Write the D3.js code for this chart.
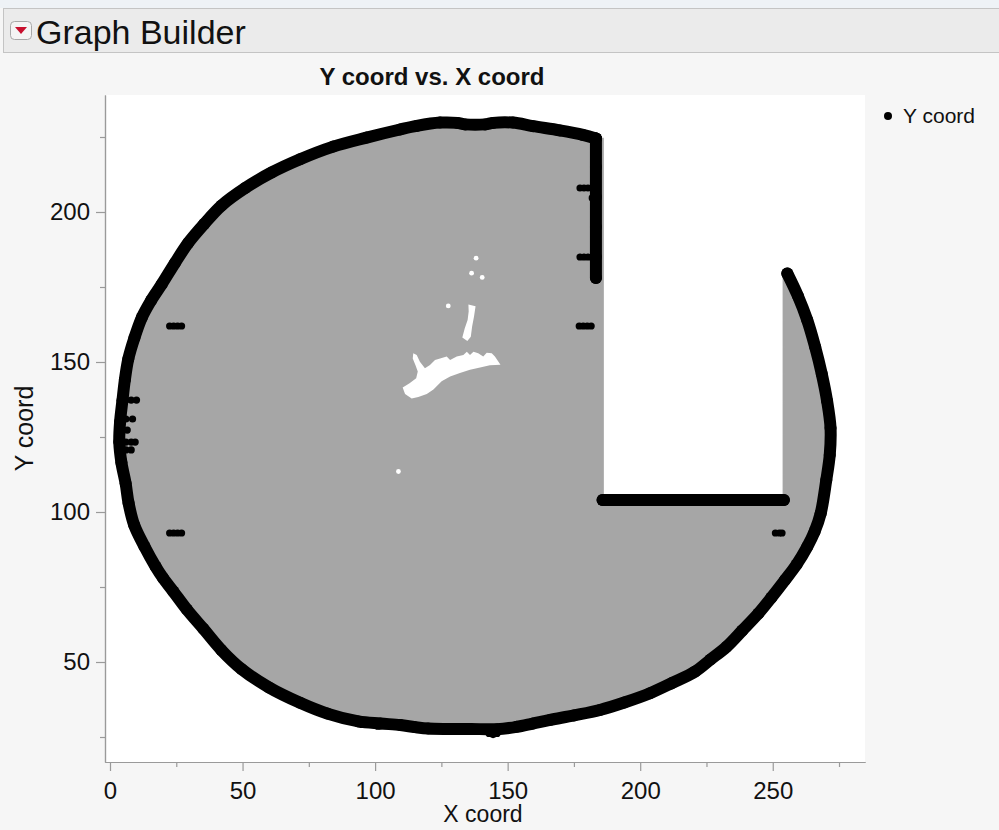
<!DOCTYPE html>
<html>
<head>
<meta charset="utf-8">
<script src="https://cdn.jsdelivr.net/npm/d3@7"></script>
<style>
  html, body { margin: 0; padding: 0; background: #f6f6f6; }
  svg { display: block; }
  text { font-family: "Liberation Sans", Arial, Helvetica, sans-serif; }
</style>
</head>
<body>
<svg id="chart" width="999" height="830"></svg>
<script>
// ---------------- data (data coordinates) ----------------
const xMajorTicks = [0, 50, 100, 150, 200, 250];
const xMinorTicks = [25, 75, 125, 175, 225, 275];
const yMajorTicks = [50, 100, 150, 200];
const yMinorTicks = [25, 75, 125, 175, 225];

// outer boundary points (black), clockwise from right edge of cut-out
const arcPoints = [
  [255.5,179.5],[259.5,172],[263,164],[266,155],[268.5,146],[270.5,137],[271.8,128],
  [271.5,119],[270.2,110.7],[268.1,99.6],[265.8,93.5],[263,88.4],[259,82.5],[254.6,77.3],
  [249.5,71.5],[244.6,66.2],[238.5,60.5],[232.6,55.1],[226.5,50.8],[220.7,46.8],[212,43],
  [203.7,39.6],[194,36.5],[184.8,34],[175,32.2],[166,30.7],[159.5,29.5],[153.4,28.4],
  [146,27.6],[136,27.7],[128,27.7],[120,27.8],[115,28.3],[109.5,29],
  [102,29.5],[93.7,30.2],[82,32.8],[71.7,36.4],[60,41.5],[49.7,47.6],[42,54],[35.2,61.1],
  [29,67.5],[23.9,73.5],[20,78],[17.2,81.8],[13,88.5],[9.1,95.7],[7,103],[5.9,109.5],
  [4.3,116.5],[3.5,123.3],[3.8,130],[4.7,137.2],[5.6,144],[6.9,151],[9.2,158],[12,164.8],
  [15.5,170.5],[19.5,175.9],[24.5,183],[29.5,189.7],[35.5,196],[42.1,202.2],[51,208],
  [61,213.2],[71.7,217.6],[84.2,221.8],[96.8,224.8],[109.4,227.5],[115.7,228.7],
  [124.5,229.8],[131,229.7],[134,229.2],[141.5,229.2],[144.5,229.7],[152,229.8],[159.6,228.6],
  [169.7,227.2],[178.4,225.7],[183.3,224.5]
];
// vertical edge at the left of the cut-out (black)
const edgePoints = [[183.3,224.5],[183.3,215],[183.3,205],[183.3,195],[183.3,185],[183.3,178]];
// cut-out corners of the gray region
const cutoutCorners = [[186,224.5],[186,104],[254,104],[254,179.5]];
// horizontal bar at the bottom of the cut-out (black)
const barPoints = [[185.8,104],[200,104],[215,104],[230,104],[245,104],[254.2,104]];
// short dashes and isolated black points
const dashPoints = [
  [22.5,162],[24,162],[25.5,162],[27,162],
  [22.5,93],[24,93],[25.5,93],[27,93],
  [177,162],[178.5,162],[180,162],[181.5,162],
  [251,93],[252.5,93],[253.5,93],
  [177.3,208],[178.8,208],[180.3,208],[181.7,208],[181.9,204.7],
  [177.3,185],[178.8,185],[180.3,185],[181.7,185],
  [4,137.3],[6,137.3],[8,137.3],[10,137.3],
  [4,131],[6,131],[8.5,131],
  [4,127.3],[6.5,127.3],
  [4,123.3],[6,123.3],[8,123.3],[9.5,123.3],
  [4,120.7],[6,120.7],[8,120.7],
  [143,26.2],[144.5,25.8],[146,26.2],
  [101,28.6],[95,29.2]
];
// white holes inside the gray region
const holeMain = [
  [114.4,152.9],[115.7,152.3],[116.9,150.1],[118.8,147.9],[120.7,149],[122.6,150.7],
  [124.5,151.2],[127,151.8],[128.3,150.7],[130.8,151.8],[133.3,152.3],[134.6,153.4],
  [135.8,152.3],[137.1,153.4],[138.9,152.9],[140.8,151.8],[142.1,153.1],[144,152.9],
  [145.2,151.8],[147.3,149.1],[143.3,148.9],[139.6,148.2],[135.8,147.4],[132,146.3],
  [128.3,145.2],[125.1,143.6],[122,140.8],[119.5,139.3],[116.3,138.3],[113.8,137.8],
  [111.3,139.3],[110.4,141.5],[113,142.9],[115.5,144.6],[116.1,146.8],[115.2,149],
  [114.2,151.2]
];
const holeStreak = [
  [135.2,169.2],[137.9,168.6],[137.3,165.1],[136.6,161.8],[136.1,158.4],[134.8,157],
  [132.9,158.2],[133.8,161.2],[134.9,164],[135.3,166.8]
];
const holeDots = [[138.1,184.6],[136.4,179.6],[140.4,178.2],[127.6,168.7],[108.8,113.5]];

const seriesName = "Y coord";
const xLabel = "X coord";
const yLabel = "Y coord";
const chartTitle = "Y coord vs. X coord";

// ---------------- drawing ----------------
const svg = d3.select("#chart");
const L = 105, R = 865, T = 95, B = 762;

const x = d3.scaleLinear().domain([-1.886, 284.8]).range([L, R]);
const y = d3.scaleLinear().domain([16.67, 239]).range([B, T]);

// header strip
svg.append("rect").attr("x", 0).attr("y", 0).attr("width", 999).attr("height", 8).attr("fill", "#eef2f6");
svg.append("rect").attr("x", 3.5).attr("y", 8.5).attr("width", 1000).attr("height", 44)
  .attr("fill", "#ebebeb").attr("stroke", "#c4c4c4");
svg.append("rect").attr("x", 10.5).attr("y", 21.5).attr("width", 21).attr("height", 18).attr("rx", 4)
  .attr("fill", "#f4f4f4").attr("stroke", "#a8a8a8");
svg.append("path").attr("d", "M15,27 L27,27 L21,34 Z").attr("fill", "#c8102e");
svg.append("text").attr("x", 36).attr("y", 44).attr("font-size", 34).attr("fill", "#111").text("Graph Builder");

// title
svg.append("text").attr("x", 432).attr("y", 85).attr("text-anchor", "middle")
  .attr("font-size", 24).attr("font-weight", "bold").attr("fill", "#111").text(chartTitle);

// plot background
svg.append("rect").attr("x", L).attr("y", T).attr("width", R - L).attr("height", B - T).attr("fill", "#ffffff");

const plot = svg.append("g");
const smooth = d3.line().x(d => x(d[0])).y(d => y(d[1])).curve(d3.curveCatmullRom.alpha(0.5));
const straight = d3.line().x(d => x(d[0])).y(d => y(d[1]));
const closed = d3.line().x(d => x(d[0])).y(d => y(d[1])).curve(d3.curveLinearClosed);

// gray filled region: smooth outer arc + straight cut-out edges
const regionPath = smooth(arcPoints) +
  cutoutCorners.map(d => "L" + x(d[0]) + "," + y(d[1])).join("") + "Z";
plot.append("path").attr("d", regionPath).attr("fill", "#a6a6a6").attr("stroke", "#a6a6a6").attr("stroke-width", 1.5);

// white holes
plot.append("path").attr("d", closed(holeMain)).attr("fill", "#fff");
plot.append("path").attr("d", closed(holeStreak)).attr("fill", "#fff");
plot.selectAll(".hd").data(holeDots).enter().append("circle")
  .attr("cx", d => x(d[0])).attr("cy", d => y(d[1])).attr("r", 2.4).attr("fill", "#fff");

// black boundary
[[arcPoints, smooth], [edgePoints, straight], [barPoints, straight]].forEach(([pts, gen]) => {
  plot.append("path").attr("d", gen(pts)).attr("fill", "none").attr("stroke", "#000")
    .attr("stroke-width", 12).attr("stroke-linejoin", "round").attr("stroke-linecap", "round");
  plot.selectAll(null).data(pts).enter().append("circle")
    .attr("cx", d => x(d[0])).attr("cy", d => y(d[1])).attr("r", 6).attr("fill", "#000");
});
plot.selectAll(".dash").data(dashPoints).enter().append("circle")
  .attr("cx", d => x(d[0])).attr("cy", d => y(d[1])).attr("r", 3.6).attr("fill", "#000");

// axes
const axisColor = "#9a9a9a";
const yAxis = svg.append("g").attr("transform", `translate(${L},0)`)
  .call(d3.axisLeft(y).tickValues(yMajorTicks).tickSize(9).tickSizeOuter(0).tickPadding(6).tickFormat(d3.format("d")));
const yMinor = svg.append("g").attr("transform", `translate(${L},0)`)
  .call(d3.axisLeft(y).tickValues(yMinorTicks).tickSize(5).tickSizeOuter(0).tickFormat(""));
const xAxis = svg.append("g").attr("transform", `translate(0,${B})`)
  .call(d3.axisBottom(x).tickValues(xMajorTicks).tickSize(9).tickSizeOuter(0).tickPadding(11).tickFormat(d3.format("d")));
const xMinor = svg.append("g").attr("transform", `translate(0,${B})`)
  .call(d3.axisBottom(x).tickValues(xMinorTicks).tickSize(5).tickSizeOuter(0).tickFormat(""));
[yAxis, yMinor, xAxis, xMinor].forEach(g => {
  g.selectAll("path.domain").attr("stroke", axisColor).attr("stroke-width", 1.2);
  g.selectAll(".tick line").attr("stroke", axisColor).attr("stroke-width", 1.2);
  g.selectAll(".tick text").attr("font-size", 24).attr("fill", "#111")
    .attr("font-family", '"Liberation Sans", Arial, sans-serif');
});

// axis titles
svg.append("text").attr("transform", `translate(33,${(T + B) / 2}) rotate(-90)`).attr("text-anchor", "middle")
  .attr("font-size", 25).attr("fill", "#111").text(yLabel);
svg.append("text").attr("x", 483).attr("y", 822).attr("text-anchor", "middle")
  .attr("font-size", 23).attr("fill", "#111").text(xLabel);

// legend
const leg = svg.append("g");
leg.append("circle").attr("cx", 888).attr("cy", 116).attr("r", 4).attr("fill", "#000");
leg.append("text").attr("x", 903).attr("y", 123).attr("font-size", 21).attr("fill", "#111").text(seriesName);
</script>
</body>
</html>
